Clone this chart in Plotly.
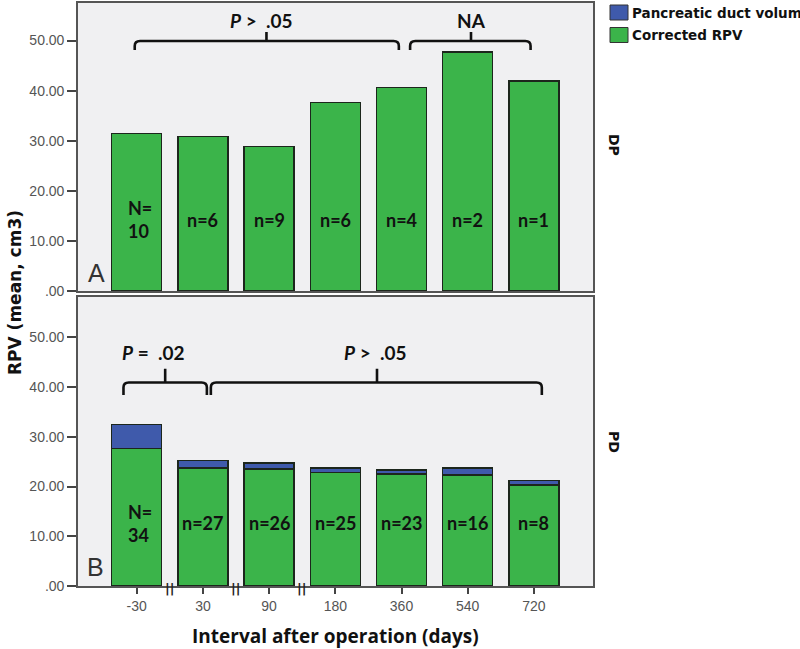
import plotly.graph_objects as go

# ---------------- data ----------------
intervals = ["-30", "30", "90", "180", "360", "540", "720"]
dp_corrected = [31.5, 30.8, 28.9, 37.7, 40.7, 47.7, 41.9]
dp_duct = [None, None, None, None, None, None, None]
pd_corrected = [27.6, 23.7, 23.5, 22.8, 22.5, 22.3, 20.3]
pd_duct = [4.8, 1.5, 1.2, 0.9, 0.8, 1.4, 0.9]
dp_n_labels = ["N=<br>10", "n=6", "n=9", "n=6", "n=4", "n=2", "n=1"]
pd_n_labels = ["N=<br>34", "n=27", "n=26", "n=25", "n=23", "n=16", "n=8"]
y_tick_vals = [0, 10, 20, 30, 40, 50]
y_tick_text = [".00", "10.00", "20.00", "30.00", "40.00", "50.00"]
legend_names = ["Pancreatic duct volum", "Corrected RPV"]

W, H = 800, 657      # page is captured slightly taller and fitted into 649 px
REF_H = 649
GREEN = "#3bb44a"
BLUE = "#3f5aab"
EDGE = "#1c261c"
BG = "#f0f0f2"

xs = list(range(len(intervals)))

def px_x(p):
    return p / W

def px_y(p):
    return 1 - p / REF_H

fig = go.Figure()
for (corr, duct, xa, ya) in [(dp_corrected, dp_duct, "x", "y"), (pd_corrected, pd_duct, "x2", "y2")]:
    fig.add_trace(go.Bar(x=xs, y=corr, name=legend_names[1], marker=dict(color=GREEN, line=dict(color=EDGE, width=1.3)),
                         xaxis=xa, yaxis=ya, showlegend=False, hoverinfo="skip"))
    fig.add_trace(go.Bar(x=xs, y=duct, name=legend_names[0], marker=dict(color=BLUE, line=dict(color=EDGE, width=1.3)),
                         xaxis=xa, yaxis=ya, showlegend=False, hoverinfo="skip"))

xdom = [px_x(78), px_x(593)]
xrange_ = [-0.887, 6.893]
axis_common = dict(showline=True, mirror=True, linecolor="#555555", linewidth=1.6, showgrid=False, zeroline=False)
TICKFONT = dict(family="Liberation Sans, Arial", size=14, color="#555555")

fig.update_layout(
    width=W, height=H, autosize=False,
    margin=dict(l=0, r=0, t=0, b=0),
    paper_bgcolor="white", plot_bgcolor=BG,
    barmode="stack", bargap=0.245,
    showlegend=False,
    xaxis=dict(domain=xdom, range=xrange_, anchor="y", showticklabels=False, ticks="", **axis_common),
    yaxis=dict(domain=[px_y(291), px_y(3)], range=[0, 57.5], anchor="x", tickvals=y_tick_vals, ticktext=y_tick_text,
               ticks="outside", ticklen=9, tickwidth=1.5, tickcolor="#444444", tickfont=TICKFONT, **axis_common),
    xaxis2=dict(domain=xdom, range=xrange_, anchor="y2", tickvals=xs, ticktext=intervals,
                ticks="outside", ticklen=6, tickwidth=1.5, tickcolor="#444444", tickfont=TICKFONT, **axis_common),
    yaxis2=dict(domain=[px_y(586), px_y(297)], range=[0, 58.1], anchor="x2", tickvals=y_tick_vals, ticktext=y_tick_text,
                ticks="outside", ticklen=9, tickwidth=1.5, tickcolor="#444444", tickfont=TICKFONT, **axis_common),
)

LBL_FONT = dict(family="Lato, Open Sans", size=18, color="#111111", weight="bold")

def ann(**kw):
    kw.setdefault("showarrow", False)
    kw.setdefault("xanchor", "center")
    kw.setdefault("yanchor", "middle")
    fig.add_annotation(**kw)

# n labels in bars
for i, t in enumerate(dp_n_labels):
    ann(x=i, y=14.2, xref="x", yref="y", text=t, font=LBL_FONT, align="left", xshift=3 if "<br>" in t else 0)
for i, t in enumerate(pd_n_labels):
    ann(x=i, y=12.6, xref="x2", yref="y2", text=t, font=LBL_FONT, align="left", xshift=3 if "<br>" in t else 0)

# brackets
def bracket(x0, x1, xc, yh, yend, ytop, xr, yr, ry):
    dx = 0.08
    d = (f"M {x0},{yend} L {x0},{yh-ry} Q {x0},{yh} {x0+dx},{yh} "
         f"L {x1-dx},{yh} Q {x1},{yh} {x1},{yh-ry} L {x1},{yend} "
         f"M {xc},{yh} L {xc},{ytop}")
    fig.add_shape(type="path", path=d, xref=xr, yref=yr, line=dict(color="#111111", width=2.6))

bracket(-0.03, 3.96, 1.96, 49.9, 48.1, 51.7, "x", "y", 1.0)
bracket(4.13, 5.95, 5.05, 49.9, 48.1, 51.7, "x", "y", 1.0)
bracket(-0.2, 1.06, 0.43, 40.9, 38.4, 43.7, "x2", "y2", 1.0)
bracket(1.12, 6.12, 3.63, 40.9, 38.4, 43.7, "x2", "y2", 1.0)

PFONT = dict(family="Lato, Open Sans", size=19, color="#111111", weight="bold")
ann(x=1.88, y=54.1, xref="x", yref="y", text="<i>P</i> >  .05", font=PFONT)
ann(x=5.05, y=54.1, xref="x", yref="y", text="NA", font=PFONT)
ann(x=0.25, y=46.9, xref="x2", yref="y2", text="<i>P</i> =  .02", font=PFONT)
ann(x=3.6, y=46.9, xref="x2", yref="y2", text="<i>P</i> >  .05", font=PFONT)

# axis break marks
for bx in [0.5, 1.5, 2.5]:
    ann(x=bx, y=px_y(588), xref="x2", yref="paper", text="||",
        font=dict(family="DejaVu Sans", size=13, color="#222222", weight="bold"))

# panel letters
ann(x=px_x(96), y=px_y(273), xref="paper", yref="paper", text="A",
    font=dict(family="Liberation Sans, Arial", size=25, color="#333333"))
ann(x=px_x(95), y=px_y(567), xref="paper", yref="paper", text="B",
    font=dict(family="Liberation Sans, Arial", size=25, color="#333333"))

# panel side labels
SIDE = dict(family="DejaVu Sans", size=14, color="#111111", weight="bold")
ann(x=px_x(614), y=px_y(145), xref="paper", yref="paper", text="DP", textangle=90, font=SIDE)
ann(x=px_x(614), y=px_y(442), xref="paper", yref="paper", text="PD", textangle=90, font=SIDE)

# axis titles
ann(x=px_x(15), y=px_y(293), xref="paper", yref="paper", text="RPV (mean, cm3)", textangle=-90,
    font=dict(family="DejaVu Sans", size=17, color="#111111", weight="bold"))
ann(x=px_x(335), y=px_y(636), xref="paper", yref="paper", text="Interval after operation (days)",
    font=dict(family="Open Sans, Lato", size=19, color="#111111", weight="bold"))

# manual legend
for k, (col, name) in enumerate([(BLUE, legend_names[0]), (GREEN, legend_names[1])]):
    y0 = 5 + k * 22.5
    fig.add_shape(type="rect", xref="paper", yref="paper", x0=px_x(610), x1=px_x(628), y0=px_y(y0 + 15), y1=px_y(y0),
                  fillcolor=col, line=dict(color="#333333", width=1))
    ann(x=px_x(630), y=px_y(y0 + 7.5), xref="paper", yref="paper", text=name, xanchor="left",
        font=dict(family="DejaVu Sans", size=13.5, color="#111111", weight="bold"))

fig.write_html("out.html", config={"displayModeBar": False},
               post_script="document.body.style.margin='0';document.body.style.overflow='hidden';")
